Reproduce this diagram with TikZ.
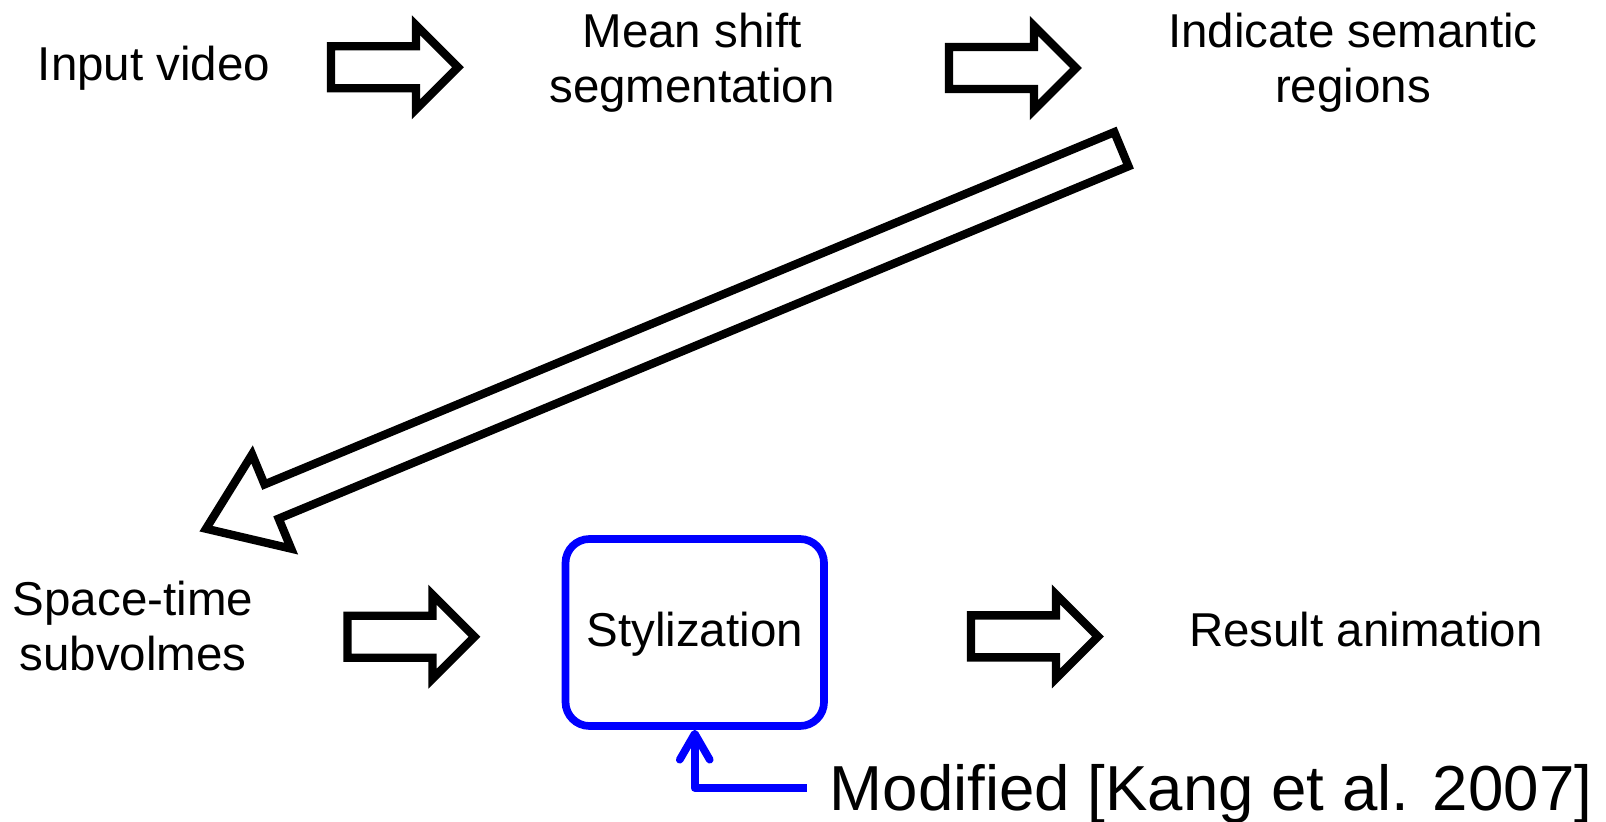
\documentclass[tikz,border=0pt]{standalone}
\usepackage{fontspec}
\setmainfont{Liberation Sans}
\usetikzlibrary{arrows.meta}
\newcommand{\twolines}[2]{\begin{tabular}[t]{@{}c@{}}#1\\#2\end{tabular}}
\begin{document}
\begin{tikzpicture}[x=0.5pt,y=-0.5pt,
  lbl/.style={font=\fontsize{23.75pt}{27.5pt}\selectfont, inner sep=0pt, anchor=base},
  hollow/.style={draw=black, line width=4.15pt, fill=white, line join=miter},
  harrow/.pic={\draw[hollow] (0,-21) -- (85,-21) -- (85,-42) -- (127,0) -- (85,42) -- (85,21) -- (0,21) -- cycle;},
  darrow/.pic={\draw[hollow] (0,-18.5) -- (920,-18.5) -- (920,-51) -- (991,0) -- (920,51) -- (920,18.5) -- (0,18.5) -- cycle;},
  stybox/.style={draw=blue, line width=3.85pt, rounded corners=12pt, minimum width=129.25pt, minimum height=93.5pt, inner sep=0pt, text height=19pt, text depth=4.8pt, font=\fontsize{23.75pt}{27.5pt}\selectfont},
  bluearrow/.style={draw=blue, line width=3.85pt, line join=round, -{Straight Barb[length=13pt,width=15pt,round]}}]

\useasboundingbox (0,0) rectangle (1606,822);

% text nodes
\node[lbl] (inp) at (154,81) {Input video};
\node[lbl] (mean) at (692,48) {\twolines{Mean shift}{segmentation}};
\node[lbl] (ind) at (1353,47.5) {\twolines{Indicate semantic}{regions}};
\node[lbl] (stv) at (133,616) {\twolines{Space-time}{subvolmes}};
\node[stybox] (sty) at (694.75,632.5) {Stylization};
\node[lbl] (res) at (1366,646.7) {Result animation};
\node[font=\fontsize{31.8pt}{38pt}\selectfont, anchor=base west, inner xsep=11.3pt, inner ysep=0pt, text height=26pt, text depth=4pt] (mod) at (806.7,810) {Modified [Kang et al. 2007]};

% hollow block arrows
\pic at (331,67.3) {harrow};
\pic at (949,68) {harrow};
\pic at (347.5,636.7) {harrow};
\pic at (971,636.4) {harrow};
\pic[rotate=202.52] at (1121.4,149.2) {darrow};

% blue connector
\draw[bluearrow] (mod.west) -| (sty.south);
\end{tikzpicture}
\end{document}
